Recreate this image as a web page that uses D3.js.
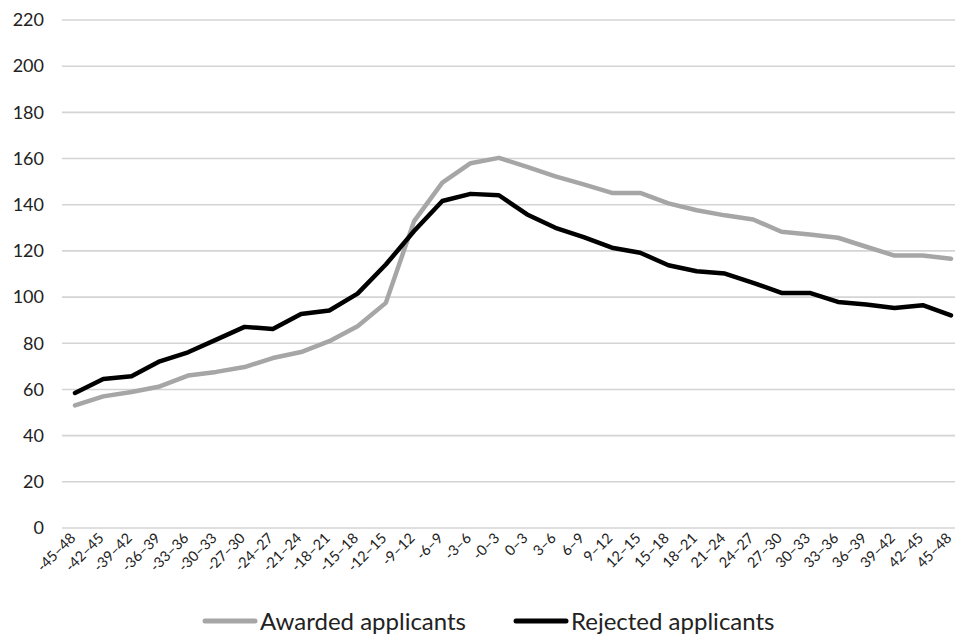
<!DOCTYPE html>
<html>
<head>
<meta charset="utf-8">
<script src="https://cdn.jsdelivr.net/npm/d3@7"></script>
<style>
  body { margin: 0; background: #fff; }
  text { font-family: Lato, "Open Sans", sans-serif; fill: #222; }
</style>
</head>
<body>
<div id="chart"></div>
<script>
// Month windows around the decision, as printed on the x axis.
const categories = [
    "-45–48", "-42–45", "-39–42", "-36–39", "-33–36", "-30–33", "-27–30", "-24–27",
    "-21–24", "-18–21", "-15–18", "-12–15", "-9–12", "-6–9", "-3–6", "-0–3",
    "0–3", "3–6", "6–9", "9–12", "12–15", "15–18", "18–21", "21–24",
    "24–27", "27–30", "30–33", "33–36", "36–39", "39–42", "42–45", "45–48"
];

// Values.
const awarded = [
    53.1, 57.0, 58.9, 61.3, 66.0, 67.6, 69.7, 73.6,
    76.2, 80.9, 87.4, 97.5, 132.9, 149.6, 158.0, 160.3,
    156.4, 152.3, 148.8, 145.1, 145.1, 140.6, 137.6, 135.4,
    133.6, 128.3, 127.1, 125.7, 121.8, 118.0, 118.0, 116.6
];
const rejected = [
    58.5, 64.5, 65.7, 72.2, 76.1, 81.6, 87.1, 86.2,
    92.7, 94.2, 101.5, 114.1, 128.6, 141.6, 144.7, 144.1,
    135.8, 130.0, 126.0, 121.4, 119.2, 113.8, 111.2, 110.2,
    106.2, 101.8, 101.8, 97.9, 96.8, 95.3, 96.5, 92.1
];
const yTicks = [0, 20, 40, 60, 80, 100, 120, 140, 160, 180, 200, 220];

const seriesNames = ["Awarded applicants", "Rejected applicants"];
const seriesColors = ["#a6a6a6", "#000000"];

const width = 955;
const height = 634;

const svg = d3.select("#chart")
    .append("svg")
    .attr("width", width)
    .attr("height", height);

svg.append("rect").attr("width", width).attr("height", height).attr("fill", "#fff");

// Scales (the last category sits close to the right edge, as in the source).
const xScale = d3.scalePoint()
    .domain(categories)
    .range([75, 951]);

const yScale = d3.scaleLinear()
    .domain([0, 220])
    .range([528, 20]);

// Horizontal gridlines.
svg.append("g")
    .selectAll("line")
    .data(yTicks)
    .enter()
    .append("line")
    .attr("x1", 62)
    .attr("x2", width)
    .attr("y1", d => yScale(d))
    .attr("y2", d => yScale(d))
    .attr("stroke", "#d4d4d4")
    .attr("stroke-width", 1.6);

// Y axis labels.
const yAxis = svg.append("g")
    .attr("transform", "translate(44, 0)")
    .call(d3.axisLeft(yScale).tickValues(yTicks).tickSize(0).tickPadding(0));
yAxis.select(".domain").remove();
yAxis.selectAll("text")
    .attr("font-size", 18)
    .attr("font-family", "Lato, sans-serif")
    .attr("fill", "#222");

// X axis labels, rotated.
const xAxis = svg.append("g")
    .attr("transform", `translate(0, ${yScale(0)})`)
    .call(d3.axisBottom(xScale).tickSize(0).tickPadding(0));
xAxis.select(".domain").remove();
xAxis.selectAll("text")
    .attr("font-size", 14.5)
    .attr("font-family", "Lato, sans-serif")
    .attr("fill", "#111")
    .attr("text-anchor", "end")
    .attr("dy", null)
    .attr("y", 0)
    .attr("transform", "translate(1, 11) rotate(-45)");

// One line per series.
const line = d3.line()
    .x((d, i) => xScale(categories[i]))
    .y(d => yScale(d));

svg.selectAll(".series")
    .data([awarded, rejected])
    .enter()
    .append("path")
    .attr("class", "series")
    .attr("d", line)
    .attr("fill", "none")
    .attr("stroke", (d, i) => seriesColors[i])
    .attr("stroke-width", 4.5)
    .attr("stroke-linejoin", "round")
    .attr("stroke-linecap", "round");

// Legend below the chart.
const legendX = [205, 516];
const legend = svg.append("g")
    .selectAll("g")
    .data(seriesNames)
    .enter()
    .append("g")
    .attr("transform", (d, i) => `translate(${legendX[i]}, 621)`);

legend.append("line")
    .attr("x1", 0)
    .attr("x2", 50)
    .attr("stroke", (d, i) => seriesColors[i])
    .attr("stroke-width", 5)
    .attr("stroke-linecap", "round");

legend.append("text")
    .attr("x", 55)
    .attr("y", 9)
    .attr("font-size", 24)
    .text(d => d);
</script>
</body>
</html>
